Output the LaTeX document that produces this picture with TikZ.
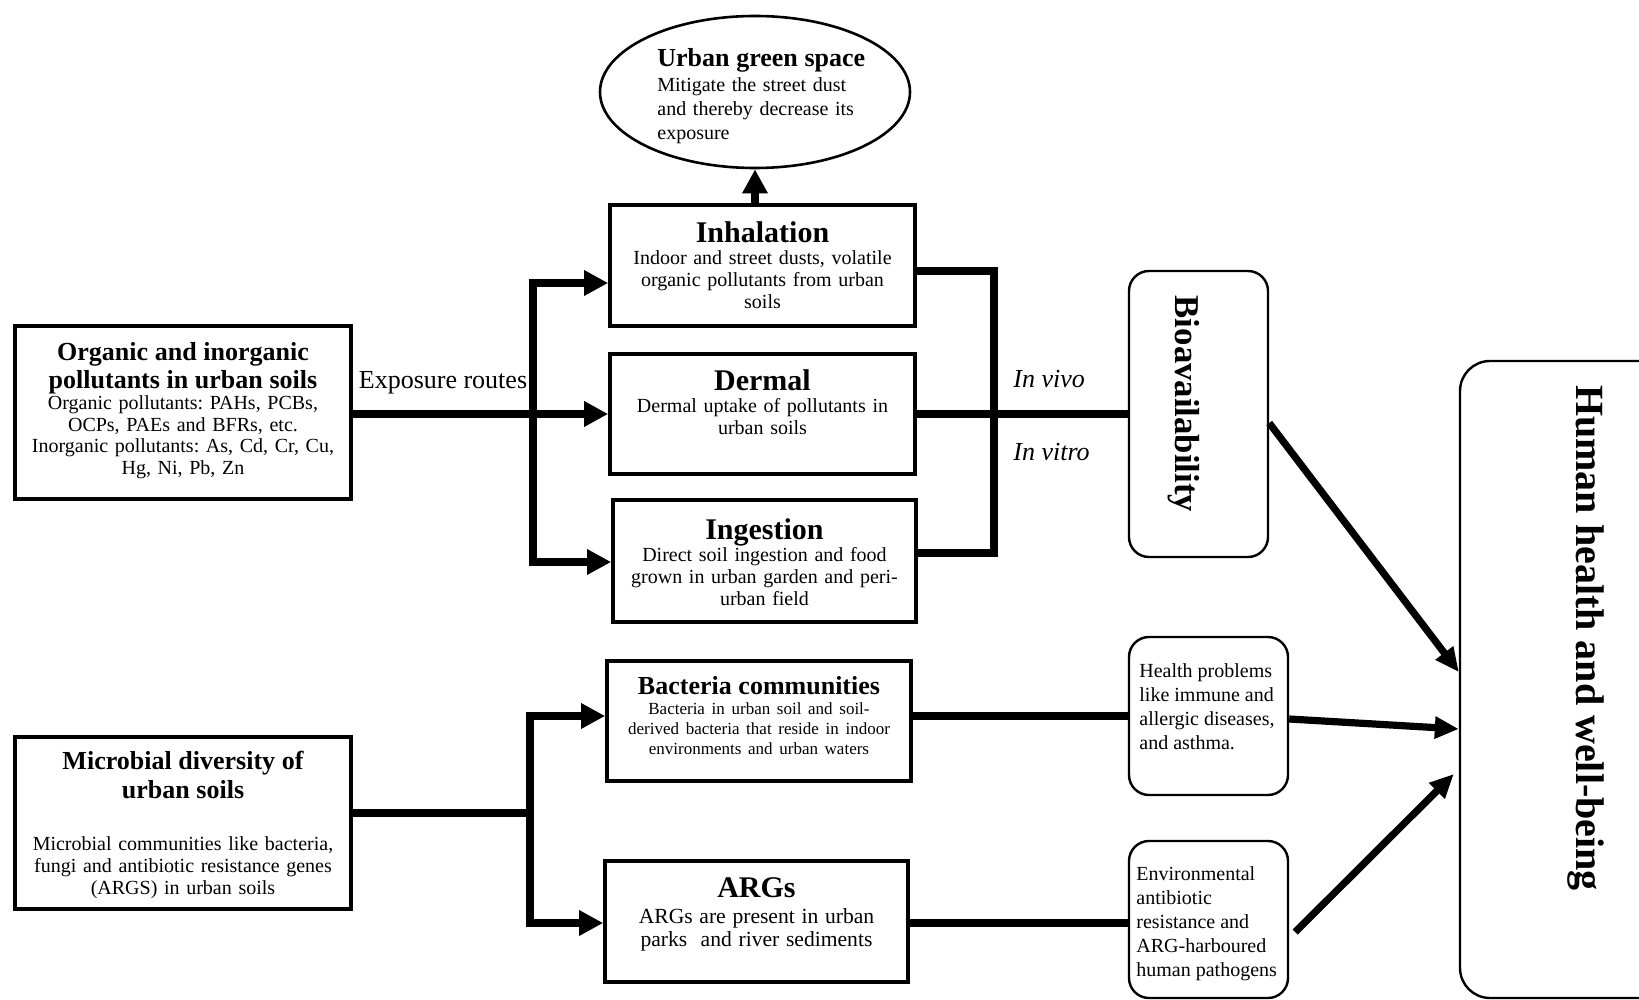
\documentclass[tikz,border=0pt]{standalone}
\usepackage{fontspec}
\setmainfont{Liberation Serif}
\usepackage{tikz}
\usetikzlibrary{arrows.meta,shapes.geometric}
\frenchspacing

\newcommand{\hdfont}{\fontsize{15}{17}\selectfont\bfseries}
\newcommand{\shfont}{\fontsize{13}{14}\selectfont\bfseries}
\newcommand{\bdfont}{\fontsize{10}{11}\selectfont}
\newcommand{\smfont}{\fontsize{8.5}{10}\selectfont}

\tikzset{
  sqbox/.style={draw, line width=1.8pt, inner sep=0pt},
  rdbox/.style={draw, line width=1.2pt, rounded corners=10pt, inner sep=0pt},
  txt/.style={inner sep=0pt, align=center},
  link/.style={line width=4.2pt, line join=miter},
  hlink/.style={line width=3.6pt, -{Triangle[length=12pt,width=10.5pt]}},
}

\begin{document}
\begin{tikzpicture}[x=0.5pt, y=-0.5pt, >={Triangle[length=12pt,width=12pt]}]
    \useasboundingbox (0,0) rectangle (1639,1000);
    \clip (0,0) rectangle (1639,1000);

    % sources
    \node[sqbox, minimum width=168pt, minimum height=86.5pt] (pol) at (183,412.5) {};
    \node[txt, text width=166pt] (pol-t) at (183,410.5)
        {{\shfont Organic and inorganic\\ pollutants in urban soils\par}
         {\fontsize{10}{10.8}\selectfont Organic pollutants: PAHs, PCBs,\\ OCPs, PAEs and BFRs, etc.\\
          Inorganic pollutants: As, Cd, Cr, Cu,\\ Hg, Ni, Pb, Zn\par}};
    \node[sqbox, minimum width=168pt, minimum height=86pt] (mic) at (183,823) {};
    \node[txt, text width=166pt] (mic-t) at (183,824.5)
        {{\fontsize{13}{14.5}\selectfont\bfseries Microbial diversity of\\ urban soils\par}
         \vspace{15pt}
         {\bdfont Microbial communities like bacteria,\\ fungi and antibiotic resistance genes\\ (ARGS) in urban soils\par}};

    % exposure routes
    \node[sqbox, minimum width=152.5pt, minimum height=60.5pt] (inh) at (762.5,265.5) {};
    \node[txt, text width=150pt] (inh-t) at (762.5,265)
        {{\hdfont Inhalation\par}
         {\bdfont Indoor and street dusts, volatile\\ organic pollutants from urban\\ soils\par}};
    \node[sqbox, minimum width=152.5pt, minimum height=60pt] (der) at (762.5,414) {};
    \node[txt, text width=150pt] (der-t) at (762.5,402)
        {{\hdfont Dermal\par}
         {\bdfont Dermal uptake of pollutants in\\ urban soils\par}};
    \node[sqbox, minimum width=151.5pt, minimum height=61pt] (ing) at (764.5,561) {};
    \node[txt, text width=150pt] (ing-t) at (764.5,562)
        {{\hdfont Ingestion\par}
         {\bdfont Direct soil ingestion and food\\ grown in urban garden and peri-\\ urban field\par}};

    \node[sqbox, minimum width=152pt, minimum height=60pt] (bac) at (759,721) {};
    \node[txt, text width=150pt] (bac-t) at (759,716)
        {{\shfont Bacteria communities\par}
         {\smfont Bacteria in urban soil and soil-\\ derived bacteria that reside in indoor\\ environments and urban waters\par}};
    \node[sqbox, minimum width=151.5pt, minimum height=60.5pt] (arg) at (756.5,921.5) {};
    \node[txt, text width=150pt] (arg-t) at (756.5,914)
        {{\hdfont ARGs\par}\vspace{1.5pt}
         {\fontsize{10.8}{11.5}\selectfont ARGs are present in urban\\ parks\ \ and river sediments\par}};

    % green space
    \node[draw, ellipse, line width=1.3pt, minimum width=155pt, minimum height=76pt] (ugs) at (755,92) {};
    \node[inner sep=0pt, align=left, text width=112pt, anchor=west] (ugs-t) at (657,96)
        {{\shfont Urban green space\par}\vspace{0.3pt}
         {\fontsize{10}{12}\selectfont Mitigate the street dust\\ and thereby decrease its\\ exposure\par}};

    % outcomes
    \node[rdbox, minimum width=69.5pt, minimum height=143pt] (bio) at (1198.5,414) {};
    \node[inner sep=0pt, rotate=-90, font=\fontsize{17.4}{19}\selectfont\bfseries] (bio-t) at (1184,404) {Bioavailability};
    \node[rdbox, minimum width=79.5pt, minimum height=79pt] (hp) at (1208.5,716) {};
    \node[inner sep=0pt, align=left, anchor=west, font=\fontsize{10}{12}\selectfont] (hp-t) at (1139,707)
        {Health problems\\ like immune and\\ allergic diseases,\\ and asthma.};
    \node[rdbox, minimum width=79.5pt, minimum height=78.5pt] (env) at (1208.5,919.5) {};
    \node[inner sep=0pt, align=left, anchor=west, font=\fontsize{10}{12}\selectfont] (env-t) at (1136,924)
        {Environmental\\ antibiotic\\ resistance and\\ ARG-harboured\\ human pathogens};
    \node[draw, line width=1.2pt, rounded corners=15pt, minimum width=150pt, minimum height=318.5pt] (hhw) at (1610,679.5) {};
    \node[inner sep=0pt, rotate=-90, font=\fontsize{20}{22}\selectfont\bfseries] (hhw-t) at (1586,638) {Human health and well-being};

    % labels
    \node[inner sep=0pt, font=\fontsize{13}{15}\selectfont] (exp) at (443,383) {Exposure routes};
    \node[inner sep=0pt, anchor=west, font=\fontsize{13}{15}\selectfont\itshape] (vivo) at (1013,379) {In vivo};
    \node[inner sep=0pt, anchor=west, font=\fontsize{13}{15}\selectfont\itshape] (vitro) at (1013,452) {In vitro};

    % connectors
    \coordinate (j1) at (533,283);
    \coordinate (j2) at (533,562);
    \draw[link, <->] (j1 -| inh.west) -- (j1) -- (j2) -- (j2 -| ing.west);
    \draw[link, ->] (pol.east |- der.west) -- (der.west);
    \draw[link, ->] (inh.north -| ugs.south) -- (ugs.south);

    \coordinate (b1) at (994,271);
    \coordinate (b2) at (994,553);
    \draw[link] (b1 -| inh.east) -- (b1) -- (b2) -- (b2 -| ing.east);
    \draw[link] (der.east) -- (der.east -| bio.west);

    \coordinate (k0) at (530,813);
    \coordinate (k1) at (530,716);
    \coordinate (k2) at (530,923);
    \draw[link] (k0 -| mic.east) -- (k0);
    \draw[link, <->] (k1 -| bac.west) -- (k1) -- (k2) -- (k2 -| arg.west);
    \draw[link] (k1 -| bac.east) -- (k1 -| hp.west);
    \draw[link] (k2 -| arg.east) -- (k2 -| env.west);

    \draw[hlink] ([yshift=-4.5pt]bio.east) -- ([yshift=3.75pt]hhw.west);
    \draw[hlink] ([yshift=-1.5pt]hp.east) -- ([yshift=-24.75pt]hhw.west);
    \draw[hlink] ([xshift=3pt,yshift=-6.25pt]env.east) -- ([xshift=-2.5pt,yshift=-47.25pt]hhw.west);
\end{tikzpicture}
\end{document}
